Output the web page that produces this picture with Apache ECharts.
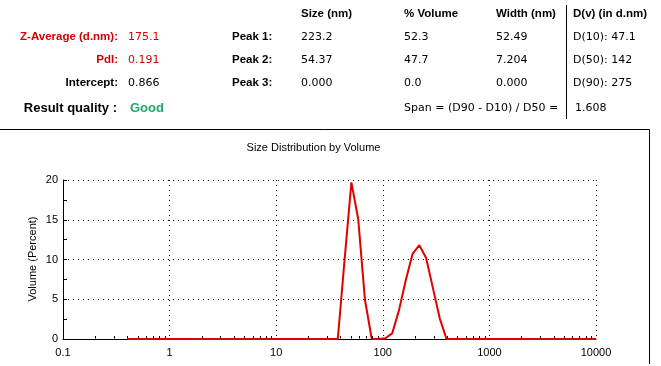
<!DOCTYPE html>
<html>
<head>
<meta charset="utf-8">
<script src="https://cdn.jsdelivr.net/npm/echarts@6/dist/echarts.min.js"></script>
<style>
html,body{margin:0;padding:0;background:#fff;}
#chart{width:661px;height:366px;}
</style>
</head>
<body>
<div id="chart"></div>
<script>
// Size bins (d.nm)
const sizes = [0.4, 0.4632, 0.5365, 0.6213, 0.7195, 0.8332, 0.9649, 1.117, 1.294, 1.499,
  1.736, 2.010, 2.328, 2.696, 3.122, 3.615, 4.187, 4.849, 5.615, 6.503,
  7.531, 8.721, 10.10, 11.70, 13.54, 15.69, 18.17, 21.04, 24.36, 28.21,
  32.67, 37.84, 43.82, 50.75, 58.77, 68.06, 78.82, 91.28, 105.7, 122.4,
  141.8, 164.2, 190.1, 220.2, 255.0, 295.3, 342.0, 396.1, 458.7, 531.2,
  615.1, 712.4, 825.0, 955.4, 1106, 1281, 1484, 1718, 1990, 2305,
  2669, 3091, 3580, 4145, 4801, 5560, 6439, 7456, 8635, 10000];
// Volume (Percent)
const volume = [0, 0, 0, 0, 0, 0, 0, 0, 0, 0,
  0, 0, 0, 0, 0, 0, 0, 0, 0, 0,
  0, 0, 0, 0, 0, 0, 0, 0, 0, 0,
  0, 0, 10.0, 19.7, 15.1, 4.9, 0, 0, 0.1, 0.7,
  3.6, 7.4, 10.7, 11.8, 10.2, 6.4, 2.6, 0, 0, 0,
  0, 0, 0, 0, 0, 0, 0, 0, 0, 0,
  0, 0, 0, 0, 0, 0, 0, 0, 0, 0];
const xMinorTicks = [0.2, 0.3, 0.4, 0.5, 0.6, 0.7, 0.8, 0.9,
  2, 3, 4, 5, 6, 7, 8, 9,
  20, 30, 40, 50, 60, 70, 80, 90,
  200, 300, 400, 500, 600, 700, 800, 900,
  2000, 3000, 4000, 5000, 6000, 7000, 8000, 9000];

// Summary table
const summaryLabels = ['Z-Average (d.nm):', 'PdI:', 'Intercept:'];
const summaryValues = ['175.1', '0.191', '0.866'];
const summaryColors = ['#d40000', '#d40000', '#000000'];
const qualityLabel = 'Result quality :';
const qualityValue = 'Good';
const peakLabels = ['Peak 1:', 'Peak 2:', 'Peak 3:'];
const tableHeaders = ['Size (nm)', '% Volume', 'Width (nm)', 'D(v) (in d.nm)'];
const peakSize = ['223.2', '54.37', '0.000'];
const peakVolume = ['52.3', '47.7', '0.0'];
const peakWidth = ['52.49', '7.204', '0.000'];
const dvValues = ['D(10): 47.1', 'D(50): 142', 'D(90): 275'];
const spanLabel = 'Span = (D90 - D10) / D50 =';
const spanValue = '1.608';
const chartTitle = 'Size Distribution by Volume';
const yAxisTitle = 'Volume (Percent)';

const FONT = '"Liberation Sans", Arial, sans-serif';
const VFONT = '"DejaVu Sans", sans-serif';
const rowY = [37, 60, 83];
const headerY = 14;
const colX = [301, 404, 496, 573];

const g = [];
function txt(x, y, text, opts, extra) {
  g.push(Object.assign({
    type: 'text', x: x, y: y, silent: true,
    style: Object.assign({
      text: text, fill: '#000', font: '11px ' + FONT,
      textAlign: 'left', textVerticalAlign: 'middle'
    }, opts || {})
  }, extra || {}));
}
const VAL = '11px ' + VFONT;
summaryLabels.forEach((t, i) => txt(118, rowY[i], t, {fill: summaryColors[i], font: 'bold 11.5px ' + FONT, textAlign: 'right'}));
summaryValues.forEach((t, i) => txt(128, rowY[i], t, {fill: summaryColors[i], font: VAL}));
txt(117, 108, qualityLabel, {font: 'bold 13px ' + FONT, textAlign: 'right'});
txt(130, 108, qualityValue, {font: 'bold 13px ' + FONT, fill: '#22a86a'});
peakLabels.forEach((t, i) => txt(232, rowY[i], t, {font: 'bold 11.5px ' + FONT}));
tableHeaders.forEach((t, i) => txt(colX[i], headerY, t, {font: 'bold 11.5px ' + FONT}));
peakSize.forEach((t, i) => txt(colX[0], rowY[i], t, {font: VAL}));
peakVolume.forEach((t, i) => txt(colX[1], rowY[i], t, {font: VAL}));
peakWidth.forEach((t, i) => txt(colX[2], rowY[i], t, {font: VAL}));
dvValues.forEach((t, i) => txt(colX[3], rowY[i], t, {font: VAL}));
txt(404, 108, spanLabel, {font: VAL});
txt(575, 108, spanValue, {font: VAL});
txt(313.5, 147.5, chartTitle, {font: '11px ' + FONT, textAlign: 'center'});
txt(33, 259, yAxisTitle, {font: '11px ' + FONT, textAlign: 'center'}, {rotation: Math.PI / 2});

g.push({type: 'line', silent: true, shape: {x1: 566.5, y1: 5, x2: 566.5, y2: 119}, style: {stroke: '#000', lineWidth: 1}});
g.push({type: 'line', silent: true, shape: {x1: 0, y1: 129.5, x2: 649.5, y2: 129.5}, style: {stroke: '#000', lineWidth: 1}});
g.push({type: 'line', silent: true, shape: {x1: 649.5, y1: 129.5, x2: 649.5, y2: 364}, style: {stroke: '#000', lineWidth: 1}});

const chart = echarts.init(document.getElementById('chart'), null, {renderer: 'canvas'});
const dotted = {color: '#000', width: 1, type: [1, 4]};
chart.setOption({
  backgroundColor: '#fff',
  animation: false,
  grid: {left: 63, right: 65, top: 180, bottom: 27, containLabel: false},
  xAxis: {
    type: 'log', logBase: 10, min: 0.1, max: 10000, z: 0,
    axisLine: {show: true, lineStyle: {color: '#000', width: 1}},
    axisTick: {show: false},
    axisLabel: {color: '#000', fontFamily: FONT, fontSize: 11, margin: 8,
      formatter: v => String(+v.toPrecision(6))},
    splitLine: {show: true, lineStyle: dotted}
  },
  yAxis: {
    type: 'value', min: 0, max: 20, interval: 5, z: 0,
    axisLine: {show: true, lineStyle: {color: '#000', width: 1}},
    axisTick: {show: true, inside: true, length: 4, lineStyle: {color: '#000'}},
    minorTick: {show: true, splitNumber: 2, length: 4, lineStyle: {color: '#000'}},
    axisLabel: {color: '#000', fontFamily: FONT, fontSize: 11, margin: 5},
    splitLine: {show: true, lineStyle: dotted}
  },
  graphic: g,
  series: [
    {
      type: 'line', zlevel: 1, z: 5, clip: false,
      data: sizes.map((s, i) => [s, volume[i]]),
      showSymbol: false, symbol: 'none',
      lineStyle: {color: '#e00000', width: 2},
      itemStyle: {color: '#e00000'}
    },
    {
      type: 'custom', silent: true, zlevel: 1, z: 6, clip: false,
      data: xMinorTicks.map(v => [v, 0]),
      renderItem: (params, api) => {
        const p = api.coord([api.value(0), 0]);
        const x = Math.round(p[0]) + 0.5;
        return {type: 'line', shape: {x1: x, y1: p[1] - 0.5, x2: x, y2: p[1] - 3},
          style: {stroke: '#000', lineWidth: 1}};
      }
    }
  ]
});
</script>
</body>
</html>
